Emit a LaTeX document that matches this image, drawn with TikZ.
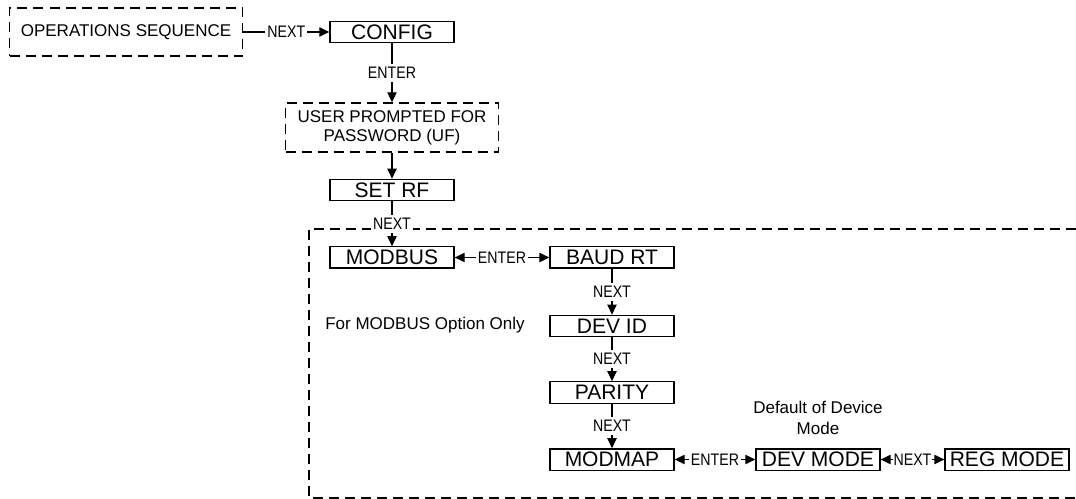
\documentclass[tikz,border=0pt]{standalone}
\usepackage{fontspec}
\setmainfont{Liberation Sans}
\newfontfamily\narrowfont[FakeStretch=0.85]{Liberation Sans}
\usetikzlibrary{arrows, arrows.meta}

\begin{document}
\begin{tikzpicture}[x=0.75pt, y=-0.75pt]
\tikzstyle{box}=[draw, line width=1pt, minimum width=93pt, minimum height=16pt, inner sep=0pt, font=\fontsize{15.75}{18}\selectfont]
\tikzstyle{dbox}=[draw, line width=1.1pt, dash pattern=on 7.5pt off 4.5pt, inner sep=0pt, align=center, font=\fontsize{12.75}{14}\selectfont]
\tikzstyle{lbl}=[fill=white, inner xsep=1.5pt, inner ysep=2.5pt, font=\narrowfont\fontsize{12.5}{14}\selectfont]
\tikzstyle{txt}=[align=center, font=\fontsize{12.75}{16}\selectfont]
\tikzstyle{link}=[line width=0.8pt, -{Triangle[length=7.5pt, width=7pt]}]
\tikzstyle{link2}=[line width=0.8pt, {Triangle[length=7.5pt, width=7pt]}-{Triangle[length=7.5pt, width=7pt]}]

\useasboundingbox (0,0) rectangle (1076,499);

\draw[line width=1.1pt, dash pattern=on 7.5pt off 4.5pt] (1076,229) -| (309,498) -- (1076,498);

\node[dbox, minimum width=174.75pt, minimum height=36pt] (ops) at (126,32) {OPERATIONS SEQUENCE};
\node[box] (config) at (392,32) {CONFIG};
\node[dbox, minimum width=159.75pt, minimum height=36.75pt] (user) at (392,127.5) {USER PROMPTED FOR\\PASSWORD (UF)};
\node[box] (setrf) at (392,190) {SET RF};
\node[box] (modbus) at (392,257.5) {MODBUS};
\foreach \n/\w/\y in {baud/BAUD RT/257.5, devid/DEV ID/326, parity/PARITY/392.5, modmap/MODMAP/459.5}
   \node[box] (\n) at (612,\y) {\w};
\node[box] (devmode) at (818,459.5) {DEV MODE};
\node[box] (regmode) at (1007,459.5) {REG MODE};

\node[txt] (note) at (425,325) {For MODBUS Option Only};
\node[txt] (dflt) at (818,418) {Default of Device\\Mode};

\draw[link] (ops) -- node[lbl] {NEXT} (config);
\draw[link] (config) -- node[lbl] {ENTER} (user);
\draw[link] (user) -- (setrf);
\draw[link] (setrf) -- node[lbl] {NEXT} (modbus);
\draw[link2] (modbus) -- node[lbl] {ENTER} (baud);
\foreach \a/\b in {baud/devid, devid/parity, parity/modmap}
   \draw[link] (\a) -- node[lbl] {NEXT} (\b);
\draw[link2] (modmap) -- node[lbl] {ENTER} (devmode);
\draw[link2] (devmode) -- node[lbl, inner xsep=0.5pt] {NEXT} (regmode);

\end{tikzpicture}
\end{document}
